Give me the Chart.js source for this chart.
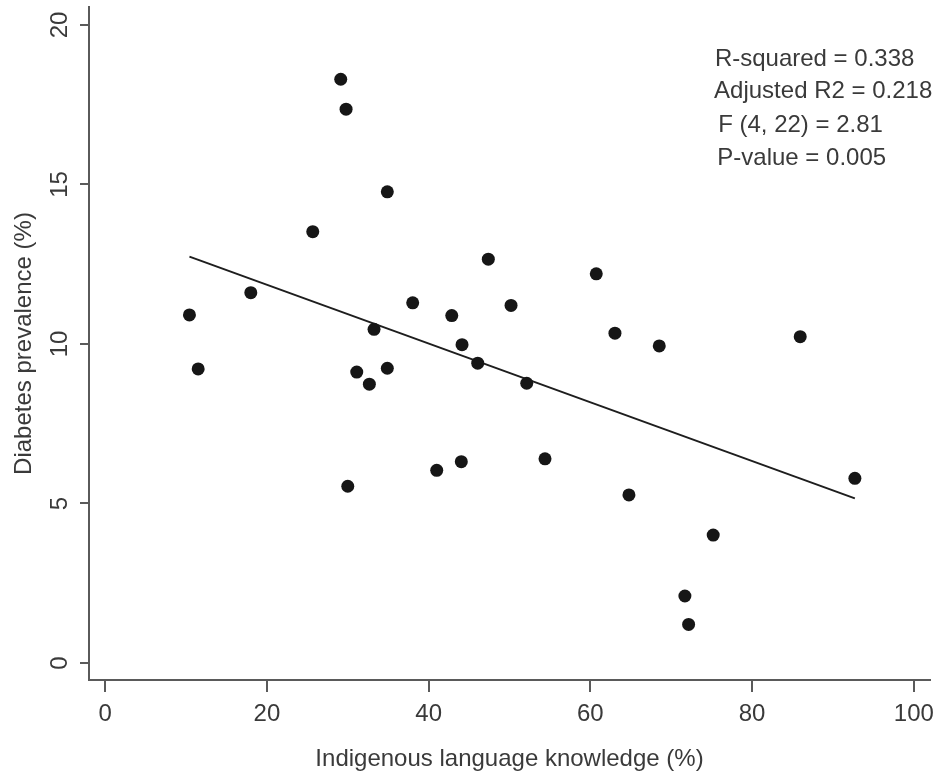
<!DOCTYPE html>
<html>
<head>
<meta charset="utf-8">
<script src="https://cdn.jsdelivr.net/npm/chart.js@4.4.1/dist/chart.umd.min.js"></script>
<style>
  html, body { margin: 0; padding: 0; background: #ffffff; }
  #wrap { width: 937px; height: 778px; }
</style>
</head>
<body>
<div id="wrap"><canvas id="c" width="937" height="778"></canvas></div>
<script>
// ---- Data ----
const languageKnowledge = [10.42, 11.50, 18.01, 25.67, 29.13, 29.79, 30.00, 31.11, 32.67, 33.25,
  34.89, 34.89, 38.03, 41.00, 42.86, 44.13, 44.04, 46.07, 47.38, 50.19,
  52.13, 54.39, 60.73, 63.04, 64.77, 68.52, 71.69, 72.15, 75.19, 85.95, 92.71];
const diabetesPrevalence = [10.91, 9.22, 11.61, 13.52, 18.30, 17.36, 5.54, 9.12, 8.74, 10.46,
  14.77, 9.24, 11.29, 6.04, 10.89, 9.98, 6.31, 9.40, 12.66, 11.21,
  8.77, 6.40, 12.20, 10.34, 5.27, 9.94, 2.10, 1.21, 4.01, 10.23, 5.79];
const fitLineX = [10.42, 92.71];
const fitLineY = [12.74, 5.16];
const xTickValues = [0, 20, 40, 60, 80, 100];
const yTickValues = [0, 5, 10, 15, 20];
const statsLines = ["R-squared = 0.338", "Adjusted R2 = 0.218", "F (4, 22) = 2.81", "P-value = 0.005"];
const statsX = [75.4, 75.3, 75.8, 75.7];
const statsY = [18.71, 17.71, 16.65, 15.61];
const xTitle = "Indigenous language knowledge (%)";
const yTitle = "Diabetes prevalence (%)";

const FONT = "'Liberation Sans', Arial, Helvetica, sans-serif";
const TEXT = '#3a3a3a';
const AXIS = '#5a5a5a';

const points = languageKnowledge.map((x, i) => ({ x: x, y: diabetesPrevalence[i] }));
const fitPoints = fitLineX.map((x, i) => ({ x: x, y: fitLineY[i] }));

const statsPlugin = {
  id: 'stats',
  afterDraw(chart) {
    const ctx = chart.ctx;
    const xs = chart.scales.x, ys = chart.scales.y;
    ctx.save();
    ctx.font = '24px ' + FONT;
    ctx.fillStyle = TEXT;
    ctx.textAlign = 'left';
    ctx.textBaseline = 'alphabetic';
    statsLines.forEach((t, i) => {
      ctx.fillText(t, xs.getPixelForValue(statsX[i]), ys.getPixelForValue(statsY[i]));
    });
    ctx.restore();
  }
};

new Chart(document.getElementById('c'), {
  type: 'scatter',
  data: {
    datasets: [
      {
        type: 'line',
        data: fitPoints,
        borderColor: '#1e1e1e',
        borderWidth: 2,
        pointRadius: 0,
        fill: false,
        order: 2
      },
      {
        data: points,
        backgroundColor: '#161616',
        borderColor: '#161616',
        borderWidth: 0,
        pointRadius: 6.5,
        order: 1
      }
    ]
  },
  options: {
    responsive: false,
    animation: false,
    devicePixelRatio: 1,
    layout: { padding: { left: 0, right: 7, top: 7, bottom: 0 } },
    plugins: { legend: { display: false }, tooltip: { enabled: false } },
    scales: {
      x: {
        type: 'linear',
        min: -2,
        max: 102,
        afterBuildTicks(scale) { scale.ticks = xTickValues.map(v => ({ value: v })); },
        afterFit(scale) { scale.height = 98; scale.paddingLeft = 0; scale.paddingRight = 0; },
        grid: { drawOnChartArea: false, drawTicks: true, tickLength: 12, color: AXIS, lineWidth: 2 },
        border: { display: true, color: AXIS, width: 2 },
        ticks: { font: { family: FONT, size: 24 }, color: TEXT, padding: 7.5, maxRotation: 0, minRotation: 0 },
        title: { display: true, text: xTitle, font: { family: FONT, size: 24 }, color: TEXT, padding: { top: 0, bottom: 4 } }
      },
      y: {
        type: 'linear',
        min: -0.533,
        max: 20.564,
        afterBuildTicks(scale) { scale.ticks = yTickValues.map(v => ({ value: v })); },
        afterFit(scale) { scale.width = 89; scale.paddingTop = 0; scale.paddingBottom = 0; },
        grid: { drawOnChartArea: false, drawTicks: true, tickLength: 9, color: AXIS, lineWidth: 2 },
        border: { display: true, color: AXIS, width: 2 },
        ticks: { font: { family: FONT, size: 24 }, color: TEXT, padding: 6, minRotation: 90, maxRotation: 90, crossAlign: 'center' },
        title: { display: true, text: yTitle, font: { family: FONT, size: 24 }, color: TEXT, padding: { top: 10, bottom: 0 } }
      }
    }
  },
  plugins: [statsPlugin]
});
</script>
</body>
</html>
